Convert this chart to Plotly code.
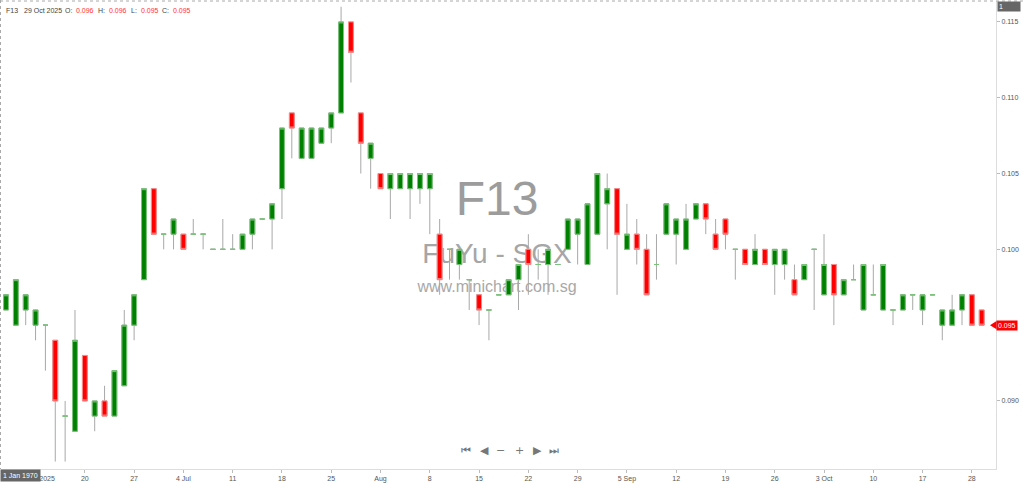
import plotly.graph_objects as go

# F13 FuYu - SGX, daily candles Jun - Oct 2025
opens = [0.096, 0.095, 0.096, 0.095, 0.095, 0.094, 0.089, 0.088, 0.093, 0.089,
         0.090, 0.089, 0.091, 0.095, 0.098, 0.104, 0.101, 0.101, 0.101, 0.101,
         0.101, 0.100, 0.100, 0.100, 0.100, 0.101, 0.102, 0.102, 0.104, 0.109,
         0.106, 0.106, 0.107, 0.108, 0.109, 0.115, 0.109, 0.106, 0.105, 0.104,
         0.104, 0.104, 0.104, 0.104, 0.101, 0.100, 0.099, 0.098, 0.097, 0.096,
         0.097, 0.097, 0.098, 0.100, 0.099, 0.099, 0.099, 0.100, 0.101, 0.099,
         0.101, 0.103, 0.104, 0.100, 0.101, 0.100, 0.099, 0.101, 0.101, 0.100,
         0.102, 0.103, 0.101, 0.102, 0.100, 0.100, 0.099, 0.100, 0.099, 0.099,
         0.098, 0.098, 0.100, 0.097, 0.099, 0.097, 0.098, 0.096, 0.097, 0.096,
         0.096, 0.096, 0.097, 0.096, 0.097, 0.095, 0.095, 0.096, 0.097, 0.096]
highs = [0.097, 0.098, 0.097, 0.096, 0.095, 0.094, 0.090, 0.096, 0.093, 0.090,
         0.091, 0.092, 0.096, 0.097, 0.104, 0.104, 0.101, 0.102, 0.101, 0.102,
         0.101, 0.100, 0.102, 0.101, 0.101, 0.102, 0.102, 0.103, 0.108, 0.109,
         0.108, 0.108, 0.108, 0.109, 0.116, 0.115, 0.109, 0.107, 0.105, 0.105,
         0.105, 0.105, 0.105, 0.105, 0.102, 0.100, 0.100, 0.098, 0.097, 0.096,
         0.097, 0.098, 0.099, 0.101, 0.100, 0.100, 0.099, 0.102, 0.102, 0.103,
         0.105, 0.105, 0.104, 0.103, 0.102, 0.101, 0.101, 0.103, 0.102, 0.103,
         0.103, 0.103, 0.102, 0.102, 0.100, 0.100, 0.101, 0.100, 0.100, 0.100,
         0.099, 0.099, 0.100, 0.101, 0.099, 0.098, 0.099, 0.099, 0.099, 0.099,
         0.096, 0.097, 0.097, 0.097, 0.097, 0.096, 0.097, 0.097, 0.097, 0.096]
lows = [0.096, 0.095, 0.095, 0.094, 0.092, 0.086, 0.086, 0.088, 0.090, 0.088,
        0.089, 0.089, 0.091, 0.094, 0.098, 0.101, 0.100, 0.100, 0.100, 0.101,
        0.100, 0.100, 0.100, 0.100, 0.100, 0.100, 0.102, 0.100, 0.102, 0.106,
        0.106, 0.106, 0.107, 0.107, 0.109, 0.111, 0.105, 0.104, 0.104, 0.102,
        0.104, 0.102, 0.103, 0.101, 0.097, 0.098, 0.098, 0.096, 0.095, 0.094,
        0.097, 0.097, 0.096, 0.097, 0.098, 0.097, 0.099, 0.100, 0.099, 0.099,
        0.101, 0.100, 0.097, 0.100, 0.099, 0.097, 0.098, 0.101, 0.099, 0.100,
        0.102, 0.101, 0.100, 0.100, 0.098, 0.099, 0.099, 0.099, 0.097, 0.098,
        0.097, 0.098, 0.096, 0.097, 0.095, 0.097, 0.098, 0.096, 0.097, 0.096,
        0.095, 0.096, 0.096, 0.095, 0.097, 0.094, 0.095, 0.095, 0.095, 0.095]
closes = [0.097, 0.098, 0.097, 0.096, 0.095, 0.090, 0.089, 0.094, 0.090, 0.090,
          0.089, 0.092, 0.095, 0.097, 0.104, 0.101, 0.101, 0.102, 0.100, 0.101,
          0.101, 0.100, 0.100, 0.100, 0.101, 0.102, 0.102, 0.103, 0.108, 0.108,
          0.108, 0.108, 0.108, 0.109, 0.115, 0.113, 0.107, 0.107, 0.104, 0.105,
          0.105, 0.105, 0.105, 0.105, 0.098, 0.100, 0.100, 0.098, 0.096, 0.096,
          0.097, 0.098, 0.099, 0.099, 0.099, 0.100, 0.099, 0.102, 0.102, 0.103,
          0.105, 0.104, 0.101, 0.101, 0.100, 0.097, 0.099, 0.103, 0.102, 0.102,
          0.103, 0.102, 0.100, 0.101, 0.100, 0.099, 0.100, 0.099, 0.100, 0.100,
          0.097, 0.099, 0.100, 0.099, 0.097, 0.098, 0.098, 0.099, 0.097, 0.099,
          0.096, 0.097, 0.097, 0.097, 0.097, 0.096, 0.096, 0.097, 0.095, 0.095]

# x-axis labels (which candle they sit under)
tick_pos = [3, 8, 13, 18, 23, 28, 33, 38, 43, 48, 53, 58, 63, 68, 73, 78, 83, 88, 93, 98]
tick_text = ["13 Jun 2025", "20", "27", "4 Jul", "11", "18", "25", "Aug", "8", "15",
             "22", "29", "5 Sep", "12", "19", "26", "3 Oct", "10", "17", "28"]
# price labels (0.095 sits under the last-price tag)
price_ticks = [0.090, 0.100, 0.105, 0.110, 0.115]

last_date = "29 Oct 2025"
symbol = "F13"

W, H = 1024, 484
ML, MR, MT, MB = 1, 28, 1, 15
FONT = "Liberation Sans"


def px_x(p):
    return (p - ML) / (W - ML - MR)


def px_y(p):
    return 1 - (p - MT) / (H - MT - MB)


x = list(range(len(opens)))
up = [c >= o for o, c in zip(opens, closes)]

fig = go.Figure()

# watermark sits on the base axes so the candles draw over it
fig.add_trace(go.Scatter(
    x=[px_x(497), px_x(497), px_x(497)],
    y=[px_y(203), px_y(256), px_y(288)],
    mode="text",
    text=["F13", "FuYu - SGX", "www.minichart.com.sg"],
    textfont=dict(family="Liberation Sans", size=[48, 28, 16],
                  color=["#9c9c9c", "#a6a6a6", "#a8a8a8"]),
    hoverinfo="skip", showlegend=False, xaxis="x", yaxis="y",
))

# wicks
wick = "#a8a8a8"
fig.add_trace(go.Candlestick(
    x=x, open=opens, high=highs, low=lows, close=closes,
    increasing=dict(line=dict(color=wick, width=1), fillcolor=wick),
    decreasing=dict(line=dict(color=wick, width=1), fillcolor=wick),
    hoverinfo="skip", showlegend=False, xaxis="x2", yaxis="y2",
))


def bodies(keep):
    o = [v if k else None for v, k in zip(opens, keep)]
    c = [v if k else None for v, k in zip(closes, keep)]
    hi = [max(a, b) if k else None for a, b, k in zip(opens, closes, keep)]
    lo = [min(a, b) if k else None for a, b, k in zip(opens, closes, keep)]
    return o, hi, lo, c


for keep, fill, edge in [(up, "#008000", "#7cc47c"),
                         ([not u for u in up], "#ff0000", "#ff8a8a")]:
    o, hi, lo, c = bodies(keep)
    fig.add_trace(go.Candlestick(
        x=x, open=o, high=hi, low=lo, close=c,
        increasing=dict(line=dict(color=edge, width=1), fillcolor=fill),
        decreasing=dict(line=dict(color=edge, width=1), fillcolor=fill),
        hoverinfo="skip", showlegend=False, xaxis="x2", yaxis="y2",
    ))

ann = []
# header line
hdr = [(symbol, 4, "#444"), (last_date, 22, "#444"),
       ("O:", 63, "#444"), (f"{opens[-1]:.3f}", 74, "#ff3333"),
       ("H:", 96, "#444"), (f"{highs[-1]:.3f}", 107, "#ff3333"),
       ("L:", 129, "#444"), (f"{lows[-1]:.3f}", 139, "#ff3333"),
       ("C:", 160, "#444"), (f"{closes[-1]:.3f}", 171, "#ff3333")]
for t, xp, col in hdr:
    ann.append(dict(text=t, x=px_x(xp), y=px_y(10), xref="paper", yref="paper",
                    xanchor="left", yanchor="middle", showarrow=False,
                    font=dict(family=FONT, size=7, color=col)))

# navigation buttons
for t, xp in zip(["⏮", "◀", "−", "+", "▶", "⏭"], [466, 484, 501, 519, 537, 554]):
    ann.append(dict(text=t, x=px_x(xp), y=px_y(459), xref="paper", yref="paper",
                    showarrow=False, font=dict(family="DejaVu Sans", size=11, color="#777")))

# crosshair leftovers
ann.append(dict(text="1 Jan 1970", x=px_x(0), y=px_y(475.5), xref="paper", yref="paper",
                xanchor="left", yanchor="middle", showarrow=False, bgcolor="#666",
                borderpad=2, font=dict(family=FONT, size=7, color="white")))
ann.append(dict(text="1", x=px_x(997), y=px_y(7), xref="paper", yref="paper",
                xanchor="left", yanchor="middle", showarrow=False, bgcolor="#666",
                width=20, align="left", borderpad=1,
                font=dict(family=FONT, size=7, color="white")))
# last price tag
ann.append(dict(text=f"{closes[-1]:.3f}", x=px_x(996), y=closes[-1], xref="paper", yref="y2",
                xanchor="left", yanchor="middle", showarrow=False, bgcolor="#ff0000",
                borderpad=1, font=dict(family=FONT, size=7, color="white")))

tri = 0.00027
shapes = [
    dict(type="line", xref="paper", yref="paper", x0=px_x(0), x1=px_x(W), y0=1, y1=1,
         line=dict(color="#aaa", width=1, dash="dot")),
    dict(type="line", xref="paper", yref="paper", x0=px_x(0.5), x1=px_x(0.5), y0=px_y(0), y1=0,
         line=dict(color="#aaa", width=1, dash="dot")),
    dict(type="path", xref="paper", yref="y2",
         path=f"M {px_x(990)},{closes[-1]} L {px_x(996.5)},{closes[-1] + tri} "
              f"L {px_x(996.5)},{closes[-1] - tri} Z",
         fillcolor="#ff0000", line=dict(width=0)),
]

fig.update_layout(
    width=W, height=H,
    margin=dict(l=ML, r=MR, t=MT, b=MB),
    paper_bgcolor="white", plot_bgcolor="white",
    showlegend=False,
    font=dict(family=FONT, size=7, color="#555"),
    xaxis=dict(range=[0, 1], visible=False, fixedrange=True),
    yaxis=dict(range=[0, 1], visible=False, fixedrange=True),
    xaxis2=dict(overlaying="x", anchor="y2", side="bottom",
                range=[-0.507, 100.45], tickmode="array", tickvals=tick_pos, ticktext=tick_text,
                ticks="outside", ticklen=3, tickcolor="#bbb", showline=True, linecolor="#ddd",
                showgrid=False, zeroline=False, rangeslider=dict(visible=False),
                tickfont=dict(family=FONT, size=7, color="#555")),
    yaxis2=dict(overlaying="y", anchor="x2", side="right",
                range=[0.08551, 0.11638], tickmode="array", tickvals=price_ticks,
                tickformat=".3f",
                ticks="outside", ticklen=3, tickcolor="#bbb", showline=True, linecolor="#ddd",
                showgrid=False, zeroline=False,
                tickfont=dict(family=FONT, size=7, color="#555")),
    annotations=ann,
    shapes=shapes,
)

fig.write_html("out.html", config={"displayModeBar": False},
               post_script="document.body.style.margin='0';")
